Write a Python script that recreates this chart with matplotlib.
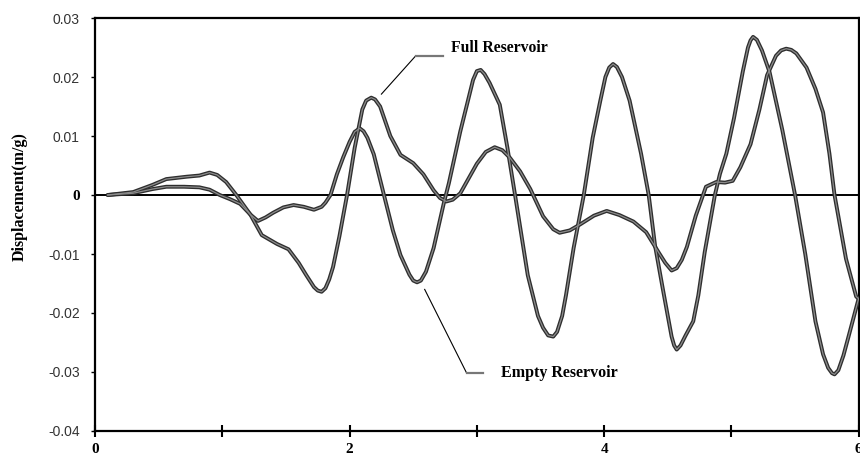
import numpy as np
import matplotlib
matplotlib.use('Agg')
import matplotlib.pyplot as plt


# Displacement response, full reservoir
full_t = [0.10, 0.30, 0.45, 0.56, 0.72, 0.82, 0.90, 0.96, 1.03, 1.11,
          1.22, 1.31, 1.43, 1.52, 1.60, 1.66, 1.72, 1.75, 1.78, 1.81,
          1.84, 1.87, 1.92, 1.98, 2.04, 2.10, 2.13, 2.17, 2.20, 2.24,
          2.32, 2.40, 2.50, 2.58, 2.66, 2.71, 2.76, 2.81, 2.87, 3.00,
          3.07, 3.14, 3.20, 3.26, 3.34, 3.42, 3.52, 3.60, 3.65, 3.73,
          3.81, 3.92, 4.02, 4.12, 4.23, 4.33, 4.43, 4.48, 4.53, 4.57,
          4.61, 4.65, 4.72, 4.80, 4.88, 4.95, 5.01, 5.07, 5.15, 5.22,
          5.28, 5.35, 5.39, 5.43, 5.47, 5.51, 5.59, 5.66, 5.72, 5.77,
          5.81, 5.86, 5.90, 5.98, 6.00]
full_d = [0.0, 0.0005, 0.0017, 0.0027, 0.0031, 0.0033, 0.0038, 0.0034, 0.0022, 0.0,
          -0.0033, -0.0068, -0.0083, -0.0092, -0.0115, -0.0136, -0.0156, -0.0162, -0.0164, -0.0158,
          -0.0143, -0.0122, -0.0070, 0.0, 0.0080, 0.0145, 0.0160, 0.0165, 0.0162, 0.0150,
          0.0100, 0.0068, 0.0054, 0.0035, 0.0008, -0.0005, -0.0011, -0.0008, 0.0003, 0.0053,
          0.0073, 0.0081, 0.0076, 0.0063, 0.0040, 0.0010, -0.0036, -0.0058, -0.0064, -0.0060,
          -0.0050, -0.0035, -0.0027, -0.0034, -0.0045, -0.0063, -0.0098, -0.0115, -0.0128, -0.0124,
          -0.0110, -0.0088, -0.0035, 0.0014, 0.0022, 0.0021, 0.0024, 0.0047, 0.0086, 0.0145,
          0.0203, 0.0236, 0.0245, 0.0248, 0.0246, 0.0240, 0.0216, 0.0180, 0.0140, 0.0070,
          0.0, -0.0060, -0.0108, -0.0172, -0.0176]

# Displacement response, empty reservoir
empty_t = [0.10, 0.30, 0.45, 0.56, 0.70, 0.82, 0.90, 0.98, 1.06, 1.14,
           1.22, 1.28, 1.34, 1.40, 1.48, 1.56, 1.64, 1.72, 1.78, 1.81,
           1.85, 1.90, 1.95, 2.00, 2.04, 2.08, 2.11, 2.14, 2.19, 2.27,
           2.34, 2.40, 2.47, 2.50, 2.53, 2.56, 2.60, 2.66, 2.74, 2.78,
           2.87, 2.93, 2.97, 3.00, 3.03, 3.06, 3.10, 3.18, 3.24, 3.30,
           3.40, 3.48, 3.52, 3.56, 3.60, 3.63, 3.67, 3.70, 3.76, 3.84,
           3.91, 3.97, 4.01, 4.04, 4.07, 4.10, 4.14, 4.20, 4.29, 4.35,
           4.40, 4.46, 4.50, 4.53, 4.55, 4.57, 4.60, 4.64, 4.70, 4.74,
           4.79, 4.87, 4.91, 4.96, 5.02, 5.09, 5.13, 5.15, 5.17, 5.20,
           5.24, 5.30, 5.40, 5.50, 5.58, 5.66, 5.72, 5.76, 5.79, 5.81,
           5.84, 5.88, 5.92, 6.00]
empty_d = [0.0, 0.0003, 0.0010, 0.0014, 0.0014, 0.0013, 0.0009, 0.0, -0.0007, -0.0015,
           -0.0033, -0.0044, -0.0038, -0.0030, -0.0021, -0.0017, -0.0020, -0.0025, -0.0020, -0.0013,
           0.0, 0.0035, 0.0064, 0.0090, 0.0107, 0.0113, 0.0108, 0.0097, 0.0069, 0.0,
           -0.0060, -0.0102, -0.0135, -0.0145, -0.0148, -0.0145, -0.0130, -0.0090, -0.0014, 0.0020,
           0.0108, 0.0160, 0.0195, 0.0210, 0.0212, 0.0205, 0.0190, 0.0153, 0.0080, 0.0,
           -0.0136, -0.0205, -0.0225, -0.0238, -0.0240, -0.0232, -0.0205, -0.0170, -0.0090, 0.0,
           0.0097, 0.0160, 0.0200, 0.0216, 0.0222, 0.0217, 0.0200, 0.0160, 0.0070, 0.0,
           -0.0086, -0.0158, -0.0205, -0.0240, -0.0255, -0.0262, -0.0255, -0.0238, -0.0214, -0.0170,
           -0.0097, 0.0, 0.0036, 0.0070, 0.0130, 0.0210, 0.0250, 0.0262, 0.0268, 0.0263,
           0.0245, 0.0208, 0.0110, 0.0, -0.0100, -0.0214, -0.0270, -0.0293, -0.0302, -0.0304,
           -0.0297, -0.0272, -0.0240, -0.0175]

y_ticks = [-0.04, -0.03, -0.02, -0.01, 0, 0.01, 0.02, 0.03]
y_labels = ['-0.04', '-0.03', '-0.02', '-0.01', '0', '0.01', '0.02', '0.03']
x_ticks = [0, 1, 2, 3, 4, 5, 6]
x_labels = ['0', '', '2', '', '4', '', '6']

serif = 'Liberation Serif'
sans = 'Liberation Sans'

fig = plt.figure(figsize=(8.6, 4.57), dpi=100)
ax = fig.add_axes([0.1105, 0.0569, 0.888, 0.9037])

# curves: dark outline with lighter core
for t, d in [(full_t, full_d), (empty_t, empty_d)]:
    ax.plot(t, d, color='#2e2e2e', lw=2.8, solid_joinstyle='round',
            solid_capstyle='round', zorder=3)
    ax.plot(t, d, color='#8c8c8c', lw=0.9, solid_joinstyle='round', zorder=4)

ax.axhline(0, color='black', lw=1.4, zorder=2)

ax.set_xlim(0, 6)
ax.set_ylim(-0.04, 0.03)
ax.set_xticks(x_ticks)
ax.set_xticklabels(x_labels, fontfamily=serif, fontweight='bold', fontsize=11)
ax.set_yticks(y_ticks)
ax.set_yticklabels(y_labels, fontfamily=sans, fontsize=10, color='#333333')
for lab in ax.get_yticklabels():
    if lab.get_text() == '0':
        lab.set_fontfamily(serif)
        lab.set_fontweight('bold')
        lab.set_fontsize(11)
        lab.set_color('black')

ax.tick_params(axis='x', direction='inout', length=8, width=1.5, pad=5)
ax.tick_params(axis='y', direction='out', length=3, width=1, pad=8)
for s in ax.spines.values():
    s.set_linewidth(1.6)

ax.set_ylabel('Displacement(m/g)', fontfamily=serif, fontweight='bold', fontsize=11.5)
ax.yaxis.set_label_coords(-0.088, 0.567)

# leader lines and labels
ax.plot([2.25, 2.52], [0.0171, 0.0236], color='black', lw=0.8)
ax.plot([2.52, 2.73], [0.0236, 0.0236], color='#777777', lw=1.6)
ax.text(2.80, 0.0250, 'Full Reservoir', fontfamily=serif, fontweight='bold',
        fontsize=11.3, va='center', ha='left')

ax.plot([2.59, 2.92], [-0.0160, -0.0302], color='black', lw=0.8)
ax.plot([2.92, 3.05], [-0.0302, -0.0302], color='#777777', lw=1.6)
ax.text(3.19, -0.0302, 'Empty Reservoir', fontfamily=serif, fontweight='bold',
        fontsize=11.5, va='center', ha='left')

fig.savefig('out.png', dpi=100)
